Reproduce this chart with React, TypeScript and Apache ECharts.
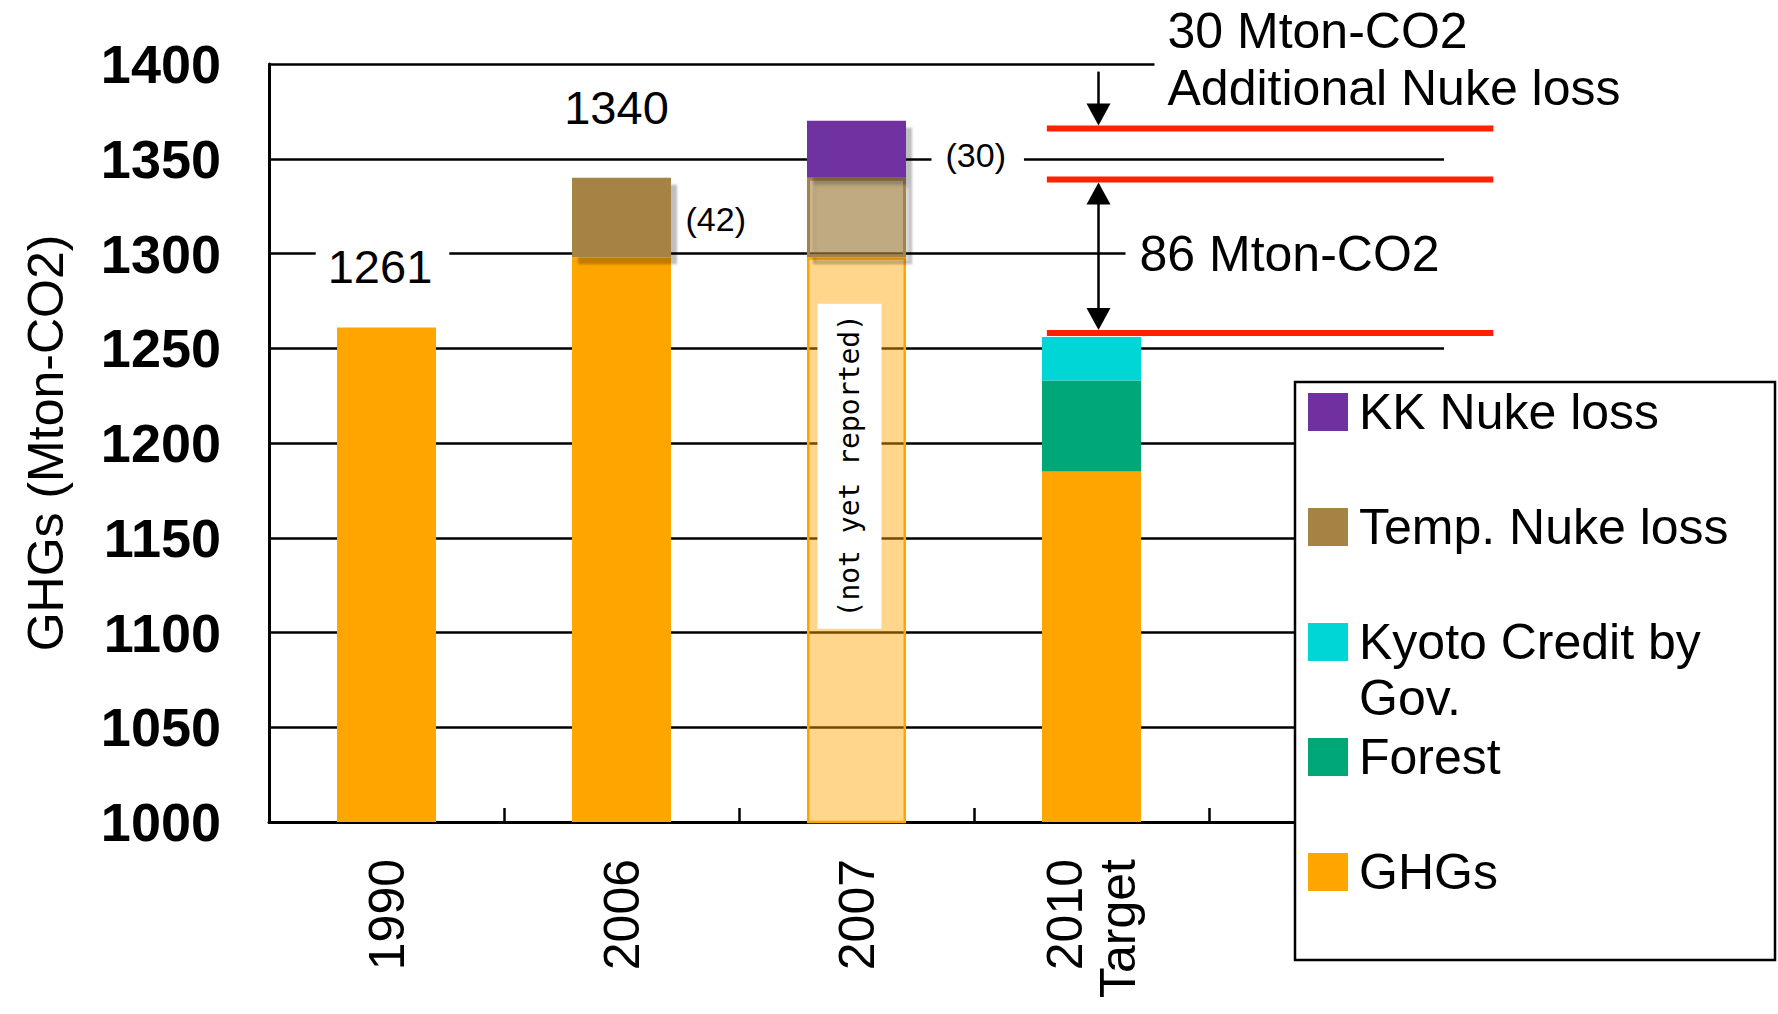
import React, { useEffect, useRef } from 'react';
import * as echarts from 'echarts';

// ---------- data ----------
const CATEGORIES = ['1990', '2006', '2007', '2010\nTarget', ''];
const GHGS: (number | string)[] = [1261, 1298, 1298, 1185, '-'];
const FOREST: (number | string)[] = ['-', '-', '-', 48, '-'];
const KYOTO_CREDIT: (number | string)[] = ['-', '-', '-', 23, '-'];
const TEMP_NUKE: (number | string)[] = ['-', 42, 42, '-', '-'];
const KK_NUKE: (number | string)[] = ['-', '-', 30, '-', '-'];
const NOT_REPORTED_INDEX = 2;

const Y_MIN = 1000;
const Y_MAX = 1400;
const Y_STEP = 50;

const RED_LEVELS = [1366, 1339, 1258];
const ARROW_TOP = 1396;

const LEGEND_NAMES = ['KK Nuke loss', 'Temp. Nuke loss', 'Kyoto Credit by Gov.', 'Forest', 'GHGs'];

// ---------- styles ----------
const ORANGE = '#FFA500';
const TAN = '#A58345';
const PURPLE = '#7030A0';
const CYAN = '#00D6D6';
const GREEN = '#00A878';
const RED = '#FF2200';
const SANS = "'Liberation Sans', Arial, sans-serif";

const fade = (arr: (number | string)[], style: any) =>
  arr.map((v, i) => (i === NOT_REPORTED_INDEX && v !== '-' ? { value: v, itemStyle: style } : v));

const App: React.FC = () => {
  const ref = useRef<HTMLDivElement>(null);

  useEffect(() => {
    if (!ref.current) return;
    const chart = echarts.init(ref.current, null, { renderer: 'svg' });

    const shadow = {
      shadowColor: 'rgba(0,0,0,0.25)',
      shadowBlur: 2,
      shadowOffsetX: 6,
      shadowOffsetY: 7,
    };

    const legendCenters = [412, 527, 642, 757, 872];
    const lineH = 56;
    const legends = LEGEND_NAMES.map((name, i) => {
      const multi = name === 'Kyoto Credit by Gov.';
      return {
        data: [name],
        orient: 'vertical',
        left: 1308,
        top: legendCenters[i] - lineH / 2,
        padding: 0,
        itemWidth: 40,
        itemHeight: multi ? 94 : 38,
        icon: multi ? 'path://M0 0H40V38H0Z M0 94H40' : 'rect',
        selectedMode: false,
        z: 20,
        itemStyle: { borderWidth: 0 },
        formatter: (n: string) => n.replace(' Gov.', '\nGov.'),
        textStyle: {
          fontFamily: SANS,
          fontSize: 50,
          lineHeight: lineH,
          color: '#000',
          padding: [0, 0, 0, 6],
        },
      };
    });

    chart.setOption({
      animation: false,
      backgroundColor: '#fff',
      grid: { left: 269, right: 334, top: 64, bottom: 192, containLabel: false, outerBoundsMode: 'none' },
      legend: legends,
      xAxis: {
        type: 'category',
        data: CATEGORIES,
        axisLine: { lineStyle: { color: '#000', width: 3 } },
        axisTick: { show: true, inside: true, length: 14, lineStyle: { color: '#000', width: 2.5 } },
        axisLabel: {
          rotate: 90,
          margin: 37,
          fontFamily: SANS,
          fontSize: 50,
          lineHeight: 53,
          color: '#000',
        },
      },
      yAxis: {
        type: 'value',
        min: Y_MIN,
        max: Y_MAX,
        interval: Y_STEP,
        name: 'GHGs (Mton-CO2)',
        nameLocation: 'middle',
        nameGap: 198,
        nameTextStyle: { fontFamily: SANS, fontSize: 50, lineHeight: 50, color: '#000' },
        axisLine: { show: true, lineStyle: { color: '#000', width: 3 } },
        axisTick: { show: false },
        axisLabel: {
          margin: 48,
          fontFamily: SANS,
          fontWeight: 'bold',
          fontSize: 54,
          color: '#000',
          formatter: (v: number) => String(v),
        },
        splitLine: { show: true, lineStyle: { color: '#000', width: 2.5 } },
      },
      series: [
        {
          name: 'GHGs',
          type: 'bar',
          stack: 'total',
          barWidth: 99,
          clip: true,
          itemStyle: { color: ORANGE },
          data: fade(GHGS, { color: 'rgba(255,165,0,0.45)', borderColor: ORANGE, borderWidth: 2.5 }),
        },
        {
          name: 'Forest',
          type: 'bar',
          stack: 'total',
          barWidth: 99,
          clip: true,
          itemStyle: { color: GREEN },
          data: FOREST,
        },
        {
          name: 'Kyoto Credit by Gov.',
          type: 'bar',
          stack: 'total',
          barWidth: 99,
          clip: true,
          itemStyle: { color: CYAN },
          data: KYOTO_CREDIT,
        },
        {
          name: 'Temp. Nuke loss',
          type: 'bar',
          stack: 'total',
          barWidth: 99,
          clip: true,
          itemStyle: { color: TAN, ...shadow },
          data: fade(TEMP_NUKE, { color: 'rgba(165,131,69,0.6)', borderColor: TAN, borderWidth: 3, ...shadow }),
        },
        {
          name: 'KK Nuke loss',
          type: 'bar',
          stack: 'total',
          barWidth: 99,
          clip: true,
          itemStyle: { color: PURPLE, ...shadow },
          data: KK_NUKE,
        },
      ],
    });

    // annotations anchored on the chart's own scales
    const px = (c: number, v: number) => chart.convertToPixel({ gridIndex: 0 }, [c, v]) as number[];
    const cx = (c: number) => px(c, 1200)[0];
    const yv = (v: number) => px(0, v)[1];
    const catW = cx(1) - cx(0);

    const txt = (text: string, x: number, y: number, size: number, opts: any = {}) => ({
      type: 'text',
      x,
      y,
      z: 8,
      rotation: opts.rotation || 0,
      style: {
        text,
        fontFamily: opts.family || SANS,
        fontSize: size,
        fill: '#000',
        align: opts.align || 'center',
        verticalAlign: 'middle',
        lineHeight: opts.lineHeight,
        backgroundColor: opts.bg,
        padding: opts.padding,
      },
    });

    const graphics: any[] = [];

    // red reference lines
    RED_LEVELS.forEach((lv) => {
      graphics.push({
        type: 'line',
        z: 6,
        shape: { x1: cx(3) - catW * 0.19, y1: yv(lv), x2: cx(3) + catW * 1.71, y2: yv(lv) },
        style: { stroke: RED, lineWidth: 6 },
      });
    });

    // arrows
    const ax = cx(3) + 7;
    const headW = 12;
    const headL = 22;
    const down = (tip: number) => ({
      type: 'polygon',
      z: 7,
      shape: { points: [[ax - headW, tip - headL], [ax + headW, tip - headL], [ax, tip]] },
      style: { fill: '#000' },
    });
    const up = (tip: number) => ({
      type: 'polygon',
      z: 7,
      shape: { points: [[ax - headW, tip + headL], [ax + headW, tip + headL], [ax, tip]] },
      style: { fill: '#000' },
    });
    const tip1 = yv(RED_LEVELS[0]) - 3;
    graphics.push({
      type: 'line',
      z: 7,
      shape: { x1: ax, y1: yv(ARROW_TOP), x2: ax, y2: tip1 - headL + 2 },
      style: { stroke: '#000', lineWidth: 2.5 },
    });
    graphics.push(down(tip1));
    const tip2a = yv(RED_LEVELS[1]) + 3;
    const tip2b = yv(RED_LEVELS[2]) - 3;
    graphics.push({
      type: 'line',
      z: 7,
      shape: { x1: ax, y1: tip2a + headL - 2, x2: ax, y2: tip2b - headL + 2 },
      style: { stroke: '#000', lineWidth: 2.5 },
    });
    graphics.push(up(tip2a));
    graphics.push(down(tip2b));

    // value labels
    graphics.push(txt('1261', cx(0) - 4, yv(1293), 47, { bg: '#fff', padding: [2, 17, 2, 12] }));
    graphics.push(txt('1340', cx(1) - 5, yv(1377), 47));
    graphics.push(txt('(42)', cx(1) + 64, yv(1318), 34, { align: 'left' }));
    graphics.push(txt('(30)', cx(2) + 75, yv(1352), 34, { align: 'left', bg: '#fff', padding: [2, 18, 2, 14] }));
    graphics.push(
      txt('30 Mton-CO2\nAdditional Nuke loss', cx(3) + 63, yv(1402.6), 50, {
        align: 'left',
        lineHeight: 57,
        bg: '#fff',
        padding: [0, 40, 0, 13],
      })
    );
    graphics.push(txt('86 Mton-CO2', cx(3) + 34, yv(1300), 50, { align: 'left', bg: '#fff', padding: [2, 10, 2, 14] }));

    // "not yet reported" box
    const nx = cx(NOT_REPORTED_INDEX) - 7;
    const ny = yv(1188);
    graphics.push({
      type: 'rect',
      z: 7,
      shape: { x: nx - 32, y: ny - 162, width: 64, height: 325 },
      style: { fill: '#fff' },
    });
    graphics.push(txt('(not yet reported)', nx, ny, 28, { family: "'DejaVu Sans Mono', monospace", rotation: Math.PI / 2 }));

    // legend frame
    graphics.push({
      type: 'rect',
      z: 10,
      shape: { x: 1295, y: 382, width: 480, height: 578 },
      style: { fill: '#fff', stroke: '#000', lineWidth: 2.5 },
    });

    chart.setOption({ graphic: graphics });

    return () => chart.dispose();
  }, []);

  return <div ref={ref} style={{ position: 'fixed', left: 0, top: 0, width: 1778, height: 1014 }} />;
};

export default App;
